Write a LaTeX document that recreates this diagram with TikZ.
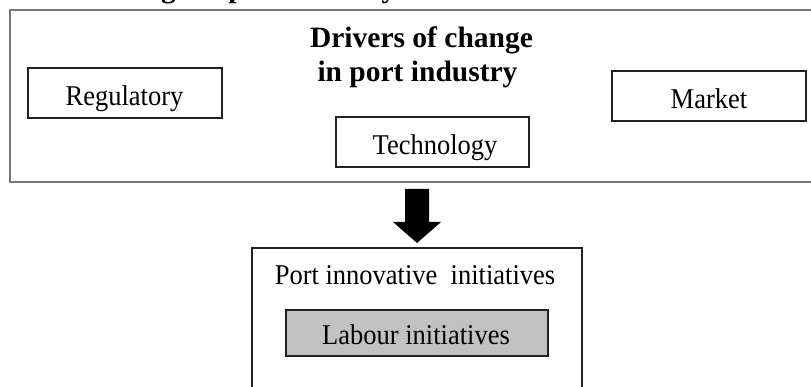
\documentclass[tikz,border=0pt]{standalone}
\usepackage{fontspec}
\setmainfont{Liberation Serif}
\newcommand\tallTxt[1]{\scalebox{1}[1.08]{#1}}
\begin{document}
\begin{tikzpicture}[x=1pt,y=-1pt,
  frame/.style={draw=black!53, line width=2pt},
  drvbox/.style={draw=black!87, line width=1.5pt},
  lbl/.style={anchor=base, inner sep=0pt, font=\fontsize{26.5}{30}\selectfont},
  ttl/.style={anchor=base, inner sep=0pt, font=\fontsize{29.5}{30}\selectfont\bfseries},
  blockarrow/.style={fill=black}]
\useasboundingbox (0,0) rectangle (811,387);
\clip (0,0) rectangle (811,387);
\fill[white] (0,0) rectangle (811,387);
% clipped caption from above
\node[ttl, anchor=base west] (cap) at (-34,-2.5) {Drivers of change in port industry};
% outer frame
\draw[frame] (10,10) rectangle (840,182);
% title
\node[ttl] (t1) at (421.5,48) {Drivers of change};
\node[ttl] (t2) at (417.5,82) {in port industry};
% driver boxes
\draw[drvbox] (28,68) rectangle (222,118);
\node[lbl] (reg) at (124.5,106) {\tallTxt{Regulatory}};
\draw[drvbox] (612,71) rectangle (806,121);
\node[lbl] (mkt) at (709,109) {\tallTxt{Market}};
\draw[drvbox] (336,117) rectangle (529,167);
\node[lbl] (tec) at (435,155) {\tallTxt{Technology}};
% block arrow
\coordinate (a1) at (405,189);
\coordinate (a2) at (429,189);
\coordinate (a3) at (429,222);
\coordinate (a4) at (441,222);
\coordinate (tip) at (417,243);
\coordinate (a6) at (393,222);
\coordinate (a7) at (405,222);
\fill[blockarrow] (a1) -- (a2) -- (a3) -- (a4) -- (tip) -- (a6) -- (a7) -- cycle;
% bottom box
\draw[drvbox] (252,400) -- (252,248) -- (582,248) -- (582,400);
\node[lbl] (pii) at (415,284) {\tallTxt{Port innovative\ \ initiatives}};
\draw[drvbox, fill=black!24] (286,310) rectangle (548,356);
\node[lbl] (lab) at (416,344) {\tallTxt{Labour initiatives}};
\end{tikzpicture}
\end{document}
